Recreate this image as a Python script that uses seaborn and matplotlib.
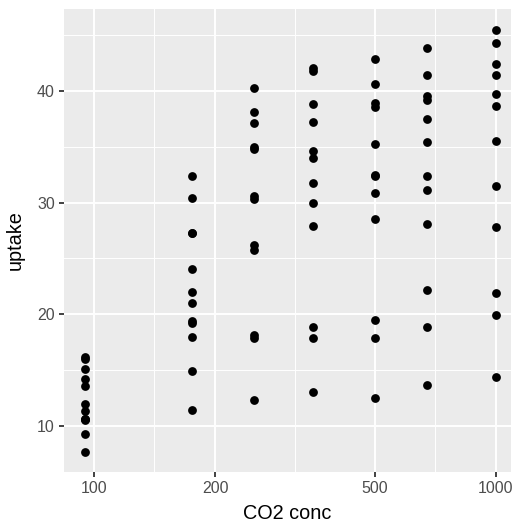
import matplotlib
matplotlib.use("Agg")
import matplotlib.pyplot as plt
import seaborn as sns
import pandas as pd
from matplotlib.ticker import FixedLocator, FixedFormatter, NullFormatter

# CO2 uptake of grass plants, per plant, at each ambient CO2 concentration
conc = [95, 175, 250, 350, 500, 675, 1000]
plants = ["Qn1", "Qn2", "Qn3", "Qc1", "Qc3", "Qc2",
          "Mn3", "Mn2", "Mn1", "Mc2", "Mc3", "Mc1"]
qn1 = [16.0, 30.4, 34.8, 37.2, 35.3, 39.2, 39.7]
qn2 = [13.6, 27.3, 37.1, 41.8, 40.6, 41.4, 44.3]
qn3 = [16.2, 32.4, 40.3, 42.1, 42.9, 43.9, 45.5]
qc1 = [14.2, 24.1, 30.3, 34.6, 32.5, 35.4, 38.7]
qc3 = [15.1, 21.0, 38.1, 34.0, 38.9, 39.6, 41.4]
qc2 = [9.3, 27.3, 35.0, 38.8, 38.6, 37.5, 42.4]
mn3 = [11.3, 19.4, 25.8, 27.9, 28.5, 28.1, 27.8]
mn2 = [12.0, 22.0, 30.6, 31.8, 32.4, 31.1, 31.5]
mn1 = [10.6, 19.2, 26.2, 30.0, 30.9, 32.4, 35.5]
mc2 = [7.7, 11.4, 12.3, 13.0, 12.5, 13.7, 14.4]
mc3 = [10.6, 18.0, 17.9, 17.9, 17.9, 18.9, 19.9]
mc1 = [10.5, 14.9, 18.1, 18.9, 19.5, 22.2, 21.9]
uptakes = [qn1, qn2, qn3, qc1, qc3, qc2, mn3, mn2, mn1, mc2, mc3, mc1]

x_breaks = [100, 200, 500, 1000]
x_labels = ["100", "200", "500", "1000"]
x_minor = [141.4, 316.2, 707.1]
y_breaks = [10, 20, 30, 40]
y_labels = ["10", "20", "30", "40"]
y_minor = [15, 25, 35, 45]

df = pd.DataFrame(
    [(p, c, u) for p, vals in zip(plants, uptakes) for c, u in zip(conc, vals)],
    columns=["Plant", "conc", "uptake"],
)

plt.rcParams["font.family"] = ["Liberation Sans", "DejaVu Sans"]

W, H = 516, 522
fig = plt.figure(figsize=(W / 100, H / 100), dpi=100)
ax = fig.add_axes([64 / W, (H - 472) / H, (511 - 64) / W, (472 - 9) / H])
ax.set_facecolor("#EBEBEB")

sns.scatterplot(data=df, x="conc", y="uptake", ax=ax, color="black",
                s=40, linewidth=0, zorder=3)

ax.set_xscale("log")
ax.set_xlim(84.2, 1090)
ax.set_ylim(5.87, 47.35)

ax.xaxis.set_major_locator(FixedLocator(x_breaks))
ax.xaxis.set_major_formatter(FixedFormatter(x_labels))
ax.xaxis.set_minor_locator(FixedLocator(x_minor))
ax.xaxis.set_minor_formatter(NullFormatter())
ax.yaxis.set_major_locator(FixedLocator(y_breaks))
ax.yaxis.set_major_formatter(FixedFormatter(y_labels))
ax.yaxis.set_minor_locator(FixedLocator(y_minor))
ax.yaxis.set_minor_formatter(NullFormatter())

ax.grid(which="major", color="white", linewidth=1.4, zorder=0)
ax.grid(which="minor", color="white", linewidth=0.7, zorder=0)
ax.set_axisbelow(True)
for s in ax.spines.values():
    s.set_visible(False)

ax.tick_params(which="major", length=3.5, width=1.3, color="#333333",
               labelcolor="#4D4D4D", labelsize=11.5, pad=3)
ax.tick_params(which="minor", length=0)

ax.set_xlabel("CO2 conc", fontsize=14.3, color="black", labelpad=6)
ax.set_ylabel("uptake", fontsize=14.3, color="black", labelpad=9)

fig.savefig("out.png", dpi=100)
